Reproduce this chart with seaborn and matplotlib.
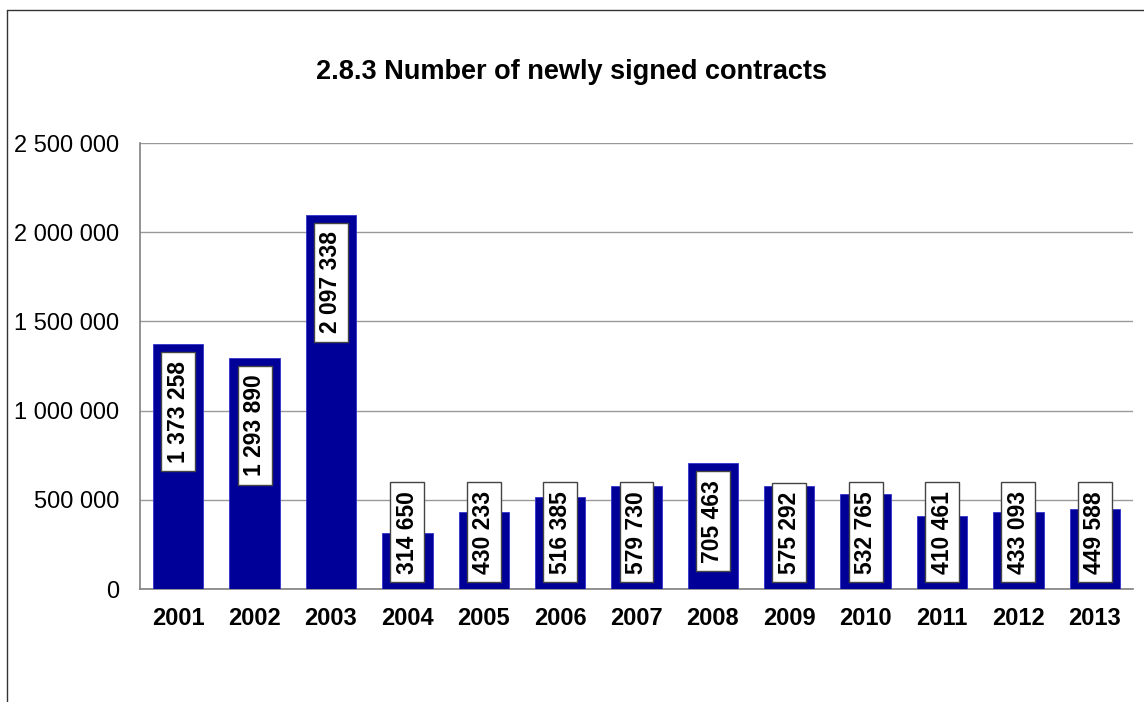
import matplotlib
matplotlib.use('Agg')
import matplotlib.pyplot as plt
import pandas as pd
import seaborn as sns
from matplotlib.lines import Line2D
from matplotlib.patches import Rectangle
from matplotlib.ticker import FuncFormatter, FixedLocator

# Data
years = ['2001', '2002', '2003', '2004', '2005', '2006', '2007',
         '2008', '2009', '2010', '2011', '2012', '2013']
contracts = [1373258, 1293890, 2097338, 314650, 430233, 516385, 579730,
             705463, 575292, 532765, 410461, 433093, 449588]

df = pd.DataFrame({'year': years, 'contracts': contracts})

sns.set_style('white')
plt.rcParams['font.family'] = ['Liberation Sans', 'DejaVu Sans']
plt.rcParams['text.color'] = 'black'
plt.rcParams['xtick.color'] = 'black'
plt.rcParams['ytick.color'] = 'black'
plt.rcParams['xtick.labelcolor'] = 'black'
plt.rcParams['ytick.labelcolor'] = 'black'


def spaced(v, pos=None):
  return f'{int(v):,}'.replace(',', ' ')


fig = plt.figure(figsize=(11.44, 7.02), dpi=100)
ax = fig.add_axes([140 / 1144, 1 - 589 / 702, 993 / 1144, 446 / 702])

sns.barplot(data=df, x='year', y='contracts', color='#000099',
            saturation=1, width=0.66, ax=ax, zorder=3)
for p in ax.patches:
  p.set_edgecolor('#3333cc')
  p.set_linewidth(0.6)

ax.set_xlim(-0.5, len(years) - 0.5)
ax.set_ylim(0, 2500000)
ax.set_yticks(range(0, 2500001, 500000))
ax.yaxis.set_major_formatter(FuncFormatter(spaced))
ax.set_xlabel('')
ax.set_ylabel('')

# gridlines and spines
ax.yaxis.grid(True, color='#999999', linewidth=1, zorder=0)
ax.set_axisbelow(True)
for side in ['top', 'right']:
  ax.spines[side].set_visible(False)
ax.spines['left'].set_color('#808080')
ax.spines['bottom'].set_color('#808080')
ax.spines['left'].set_linewidth(1.2)
ax.spines['bottom'].set_linewidth(1.2)

ax.tick_params(axis='y', direction='out', length=5, width=1,
               color='#444444', labelsize=17, pad=10)
ax.tick_params(axis='x', which='major', length=0, labelsize=17, pad=13)
ax.xaxis.set_minor_locator(FixedLocator([i - 0.5 for i in range(len(years) + 1)]))
ax.tick_params(axis='x', which='minor', direction='inout', length=10,
               width=1, color='#444444')
for lbl in ax.get_xticklabels():
  lbl.set_fontweight('bold')

# value labels: rotated text inside a white box (sizes in pixels)
half_w = 17      # half width of the label box
end_pad = 8.5    # room between text and box ends
gap_top = 8      # box top below bar top
gap_base = 7     # box bottom above the axis
px2pt = 72 / fig.dpi

fig.canvas.draw()
base_px = ax.transData.transform((0, 0))[1]
inv = ax.transData.inverted()
for i, v in enumerate(contracts):
  t = ax.annotate(spaced(v), xy=(i, v),
                  xytext=(0, -(gap_top + end_pad) * px2pt),
                  textcoords='offset points', rotation=90,
                  ha='center', va='top', fontsize=16.5, fontweight='bold',
                  zorder=6)
  fig.canvas.draw()
  bb = t.get_window_extent()
  if bb.y0 - end_pad < base_px + gap_base:
    # not enough room below the bar top: sit the box on the axis
    t.xy = (i, 0)
    t.xyann = (0, (gap_base + end_pad) * px2pt)
    t.set_va('bottom')
    fig.canvas.draw()
    bb = t.get_window_extent()
  cx = ax.transData.transform((i, 0))[0]
  (x0, y0) = inv.transform((cx - half_w, bb.y0 - end_pad))
  (x1, y1) = inv.transform((cx + half_w, bb.y1 + end_pad))
  ax.add_patch(Rectangle((x0, y0), x1 - x0, y1 - y0, facecolor='white',
                         edgecolor='#444444', linewidth=1, zorder=5))

fig.text(0.5, 1 - 79 / 702, '2.8.3 Number of newly signed contracts',
         ha='center', va='baseline', fontsize=19.5, fontweight='bold')

# outer frame (left and top edges)
fig.add_artist(Line2D([7 / 1144, 7 / 1144], [0, 1 - 10 / 702],
                      color='#333333', linewidth=1))
fig.add_artist(Line2D([7 / 1144, 1], [1 - 10 / 702, 1 - 10 / 702],
                      color='#333333', linewidth=1))

fig.savefig('out.png')
